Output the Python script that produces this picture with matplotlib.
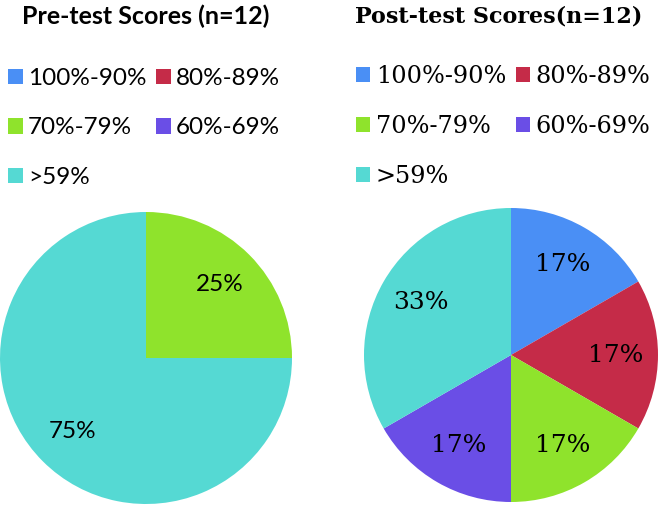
import matplotlib.pyplot as plt

categories = ["100%-90%", "80%-89%", "70%-79%", "60%-69%", ">59%"]
pre_counts = [0, 0, 3, 0, 9]
post_counts = [2, 2, 2, 2, 4]
colors = ["#4a8ff5", "#c52b48", "#8fe32c", "#6a4ee6", "#55d9d3"]

W, H = 660, 505
fig = plt.figure(figsize=(W / 100, H / 100), dpi=100)


def pct(v):
    return "" if v < 0.5 else "%d%%" % round(v)


def draw(cx, cy, r, counts, title, tx, font, fsize, lsize, tsize, lx, ly, colsp, lsp):
    ax = fig.add_axes([(cx - r) / W, (H - cy - r) / H, 2 * r / W, 2 * r / H])
    wedges, texts, autos = ax.pie(counts, colors=colors, startangle=90, counterclock=False,
                                  autopct=pct, pctdistance=0.71,
                                  textprops={"family": font, "fontsize": fsize})
    ax.set_xlim(-1, 1)
    ax.set_ylim(-1, 1)
    ax.axis("off")
    fig.text(tx / W, 1 - 16 / H, title, family=font, fontweight="bold",
             fontsize=tsize, ha="left", va="center")
    order = [0, 2, 4, 1, 3]
    fig.legend([wedges[i] for i in order], [categories[i] for i in order],
               loc="upper left", bbox_to_anchor=(lx / W, 1 - ly / H), ncol=2,
               frameon=False, prop={"family": font, "size": lsize},
               handlelength=0.6, handleheight=0.6, handletextpad=0.22,
               columnspacing=colsp, labelspacing=lsp, borderpad=0, borderaxespad=0)


draw(146, 358, 146, pre_counts, "Pre-test Scores (n=12)", 22, "Lato", 17.5, 17.5, 18, 8, 68, 0.4, 1.17)
draw(511, 355, 147, post_counts, "Post-test Scores(n=12)", 355, "DejaVu Serif", 18, 17.3, 16, 356, 65, 0.4, 1.13)

fig.savefig("out.png", dpi=100)
